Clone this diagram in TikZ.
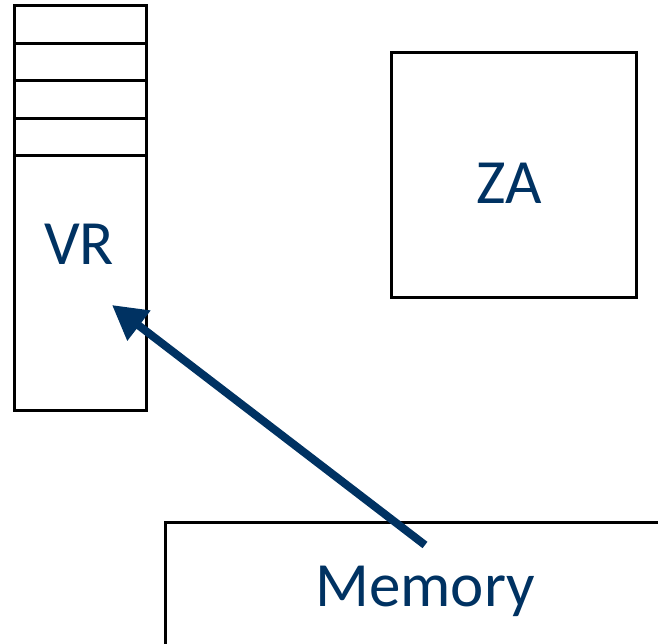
\documentclass[tikz,border=0pt]{standalone}
\usepackage{fontspec}
\setmainfont{Carlito}
\usetikzlibrary{arrows.meta}
\definecolor{navy}{RGB}{0,50,98}
\begin{document}
\begin{tikzpicture}[x=1pt,y=-1pt,
  box/.style={draw=black,line width=3pt,inner sep=0pt,outer sep=0pt},
  lbl/.style={text=navy,font=\fontsize{63}{63}\selectfont,inner sep=0pt},
  arr/.style={draw=navy,line width=8pt,-{Triangle[length=34pt,width=36pt]}}]
\useasboundingbox (0,0) rectangle (658,644);
\clip (0,0) rectangle (658,644);
% VR column
\node[box,minimum width=132pt,minimum height=37.5pt,anchor=north west] (c1) at (14,6) {};
\node[box,minimum width=132pt,minimum height=37.5pt,anchor=north] (c2) at (c1.south) {};
\node[box,minimum width=132pt,minimum height=37.5pt,anchor=north] (c3) at (c2.south) {};
\node[box,minimum width=132pt,minimum height=37.5pt,anchor=north] (c4) at (c3.south) {};
\node[box,minimum width=132pt,minimum height=254pt,anchor=north] (vr) at (c4.south) {};
\node[lbl] (vrt) at (79,244) {VR};
% ZA
\node[box,minimum width=245pt,minimum height=244pt,anchor=north west] (za) at (391,53) {};
\node[lbl] (zat) at (509,183) {ZA};
% Memory
\node[box,minimum width=560pt,minimum height=200pt,anchor=north west] (mem) at (165,522) {};
\node[lbl] (memt) at (425,591) {Memory};
% arrow
\coordinate (a1) at (425,545);
\coordinate (a2) at (112,305);
\draw[arr] (a1) -- (a2);
\end{tikzpicture}
\end{document}
